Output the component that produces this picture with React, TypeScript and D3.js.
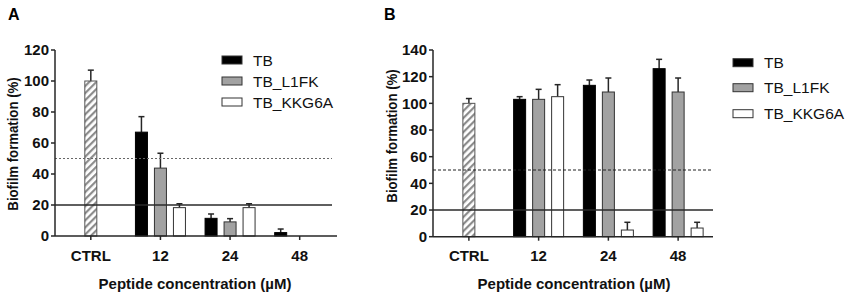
import React from "react";
import * as d3 from "d3";

const groups = ["CTRL", "12", "24", "48"];
const seriesNames = ["TB", "TB_L1FK", "TB_KKG6A"];
const seriesFill = ["#000000", "#a2a2a2", "#ffffff"];

// Panel A
const ctrlA = { mean: 100, err: 107 };
const meanA = [
  [67, 11.4, 2.2],
  [43.8, 9.1, 0],
  [18.3, 18.3, 0],
];
const errA = [
  [77, 14.2, 4.5],
  [53.4, 11.2, 0],
  [20.8, 20.8, 0],
];
const ticksA = [0, 20, 40, 60, 80, 100, 120];

// Panel B
const ctrlB = { mean: 100, err: 103.6 };
const meanB = [
  [103, 113.5, 126],
  [103, 108.5, 108.5],
  [105, 5, 6.5],
];
const errB = [
  [105, 117.5, 133],
  [110.5, 119, 119],
  [114, 10.8, 10.8],
];
const ticksB = [0, 20, 40, 60, 80, 100, 120, 140];

const refSolid = 20;
const refDotted = 50;

const FONT = "Liberation Sans, Arial, Helvetica, sans-serif";

type PanelProps = {
  id: string;
  letter: string;
  letterX: number;
  axisX: number;
  y0: number;
  yTop: number;
  yMax: number;
  ticks: number[];
  bandRange: [number, number];
  axisEnd: number;
  lineEnd: number;
  ctrl: { mean: number; err: number };
  means: number[][];
  errs: number[][];
  legendX: number;
  legendRows: number[];
  yTitleX: number;
  yTitleY: number;
  xTitleX: number;
  dash: string;
  dashColor: string;
};

function Panel(p: PanelProps) {
  const y = d3.scaleLinear().domain([0, p.yMax]).range([p.y0, p.yTop]);
  const x = d3.scaleBand<string>().domain(groups).range(p.bandRange).padding(0);
  const off = d3.scaleLinear().domain([0, 2]).range([-19, 19]);
  const bw = 12;
  const cx = (g: string) => (x(g) as number) + x.bandwidth() / 2;
  const stroke = "#262626";

  const bars: React.ReactNode[] = [];
  {
    const c = cx("CTRL");
    bars.push(
      <g key="ctrl">
        <line x1={c} x2={c} y1={y(p.ctrl.mean)} y2={y(p.ctrl.err)} stroke={stroke} strokeWidth={1.5} />
        <line x1={c - 3} x2={c + 3} y1={y(p.ctrl.err)} y2={y(p.ctrl.err)} stroke={stroke} strokeWidth={1.5} />
        <rect x={c - bw / 2} y={y(p.ctrl.mean)} width={bw} height={y(0) - y(p.ctrl.mean)} fill={`url(#hatch-${p.id})`} stroke="#555" strokeWidth={1} />
      </g>
    );
  }
  seriesNames.forEach((s, si) => {
    groups.slice(1).forEach((g, gi) => {
      const v = p.means[si][gi];
      const e = p.errs[si][gi];
      const c = cx(g) + off(si);
      if (v <= 0) return;
      bars.push(
        <g key={s + g}>
          <line x1={c} x2={c} y1={y(v)} y2={y(e)} stroke={stroke} strokeWidth={1.5} />
          <line x1={c - 3} x2={c + 3} y1={y(e)} y2={y(e)} stroke={stroke} strokeWidth={1.5} />
          <rect x={c - bw / 2} y={y(v)} width={bw} height={y(0) - y(v)} fill={seriesFill[si]} stroke={si === 0 ? "#000" : "#333"} strokeWidth={1} />
        </g>
      );
    });
  });

  return (
    <g>
      <defs>
        <pattern id={`hatch-${p.id}`} patternUnits="userSpaceOnUse" width={5} height={5} patternTransform="rotate(45)">
          <rect width={5} height={5} fill="#ffffff" />
          <rect width={2.2} height={5} fill="#8c8c8c" />
        </pattern>
      </defs>
      <text x={p.letterX} y={20} fontFamily={FONT} fontWeight="bold" fontSize={16} fill="#000">{p.letter}</text>
      {bars}
      <line x1={p.axisX} x2={p.lineEnd} y1={y(refSolid)} y2={y(refSolid)} stroke="#2a2a2a" strokeWidth={1.5} />
      <line x1={p.axisX} x2={p.lineEnd} y1={y(refDotted)} y2={y(refDotted)} stroke={p.dashColor} strokeWidth={1.2} strokeDasharray={p.dash} />
      <line x1={p.axisX} x2={p.axisX} y1={p.y0} y2={p.yTop} stroke={stroke} strokeWidth={1.5} />
      {p.ticks.map((t) => (
        <g key={t}>
          <line x1={p.axisX - 4} x2={p.axisX} y1={y(t)} y2={y(t)} stroke={stroke} strokeWidth={1.5} />
          <text x={p.axisX - 6} y={y(t)} dy="0.36em" textAnchor="end" fontFamily={FONT} fontWeight="bold" fontSize={15} fill="#111">{t}</text>
        </g>
      ))}
      <line x1={p.axisX} x2={p.axisEnd} y1={p.y0} y2={p.y0} stroke={stroke} strokeWidth={1.5} />
      {groups.map((g) => (
        <g key={g}>
          <line x1={cx(g)} x2={cx(g)} y1={p.y0} y2={p.y0 + 4} stroke={stroke} strokeWidth={1.5} />
          <text x={cx(g)} y={261} textAnchor="middle" fontFamily={FONT} fontWeight="bold" fontSize={15} fill="#111">{g}</text>
        </g>
      ))}
      <text transform={`translate(${p.yTitleX},${p.yTitleY}) rotate(-90) scale(0.88,1)`} textAnchor="middle" fontFamily={FONT} fontWeight="bold" fontSize={15} fill="#111">Biofilm formation (%)</text>
      <text x={p.xTitleX} y={289} textAnchor="middle" fontFamily={FONT} fontWeight="bold" fontSize={15} fill="#111">Peptide concentration (µM)</text>
      {seriesNames.map((s, i) => (
        <g key={s}>
          <rect x={p.legendX} y={p.legendRows[i] - 4} width={20} height={8} fill={seriesFill[i]} stroke="#333" strokeWidth={1} />
          <text x={p.legendX + 31} y={p.legendRows[i]} dy="0.36em" fontFamily={FONT} fontSize={15.5} fill="#111">{s}</text>
        </g>
      ))}
    </g>
  );
}

export default function App() {
  return (
    <svg width={851} height={295} style={{ position: "absolute", left: 0, top: 0, background: "#fff" }}>
      <rect width={851} height={295} fill="#fff" />
      <Panel
        id="a" letter="A" letterX={8} axisX={55} y0={236} yTop={50} yMax={120} ticks={ticksA}
        bandRange={[56, 334.5]} axisEnd={337} lineEnd={332}
        ctrl={ctrlA} means={meanA} errs={errA}
        legendX={222} legendRows={[60, 81, 102]}
        yTitleX={18} yTitleY={144} xTitleX={195}
        dash="2,2" dashColor="#666"
      />
      <Panel
        id="b" letter="B" letterX={384} axisX={433} y0={236.7} yTop={50} yMax={140} ticks={ticksB}
        bandRange={[434, 713]} axisEnd={713} lineEnd={713}
        ctrl={ctrlB} means={meanB} errs={errB}
        legendX={733} legendRows={[62.7, 87.7, 113.7]}
        yTitleX={397} yTitleY={136} xTitleX={574}
        dash="3,2" dashColor="#222"
      />
    </svg>
  );
}
